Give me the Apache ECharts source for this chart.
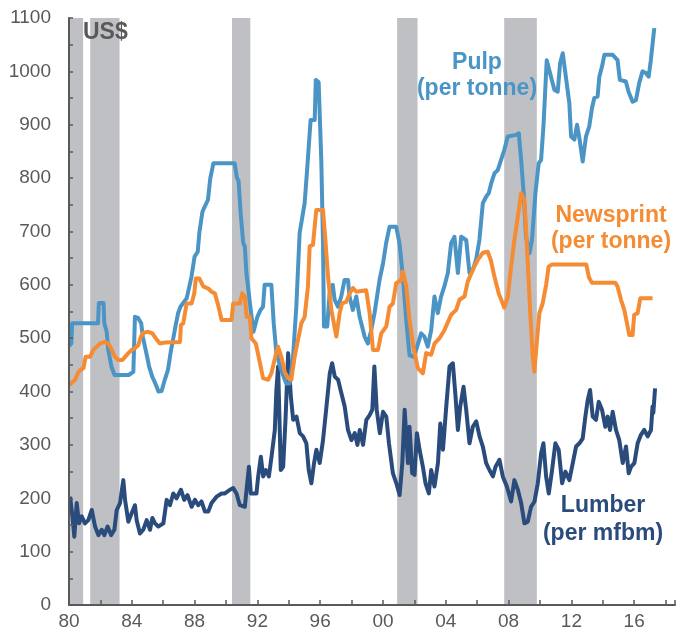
<!DOCTYPE html>
<html>
<head>
<meta charset="utf-8">
<script src="https://cdn.jsdelivr.net/npm/echarts@6/dist/echarts.min.js"></script>
<style>
  html, body { margin: 0; padding: 0; background: #fff; }
  #chart { width: 678px; height: 632px; }
</style>
</head>
<body>
<div id="chart"></div>
<script>
// recession bands (shaded), in decimal years
var recessions = [[1980.0, 1980.9], [1981.35, 1983.22], [1990.38, 1991.55], [2000.9, 2002.2], [2007.72, 2009.8]];

// pulp, US$ per tonne  [year, value]
var pulp = [
  [1980.0,485],[1980.15,490],[1980.2,528],[1981.85,528],[1981.9,566],[1982.2,566],[1982.25,528],[1982.4,512],
  [1982.5,478],[1982.7,447],[1982.9,431],[1983.8,431],[1984.1,437],[1984.2,540],[1984.4,538],[1984.6,528],
  [1984.7,503],[1985.0,462],[1985.1,447],[1985.3,428],[1985.5,415],[1985.7,400],[1985.9,401],[1986.1,422],
  [1986.3,440],[1986.5,478],[1986.6,493],[1986.8,525],[1986.95,547],[1987.1,559],[1987.5,575],[1987.8,615],
  [1988.0,653],[1988.2,662],[1988.3,697],[1988.5,737],[1988.7,750],[1988.85,759],[1989.0,800],[1989.2,828],
  [1990.55,828],[1990.7,800],[1990.8,795],[1990.95,728],[1991.1,678],[1991.2,672],[1991.3,622],[1991.55,559],
  [1991.75,512],[1992.0,540],[1992.2,553],[1992.36,559],[1992.46,600],[1992.89,600],[1993.04,528],[1993.21,472],
  [1993.52,440],[1993.84,415],[1994.05,415],[1994.27,465],[1994.48,559],[1994.69,697],[1995.01,753],[1995.18,821],
  [1995.39,909],[1995.65,909],[1995.72,984],[1995.9,980],[1996.07,834],[1996.18,678],[1996.24,522],[1996.45,522],
  [1996.6,584],[1996.8,600],[1996.92,572],[1997.13,559],[1997.34,578],[1997.55,609],[1997.77,609],[1997.87,578],
  [1998.08,553],[1998.3,578],[1998.51,540],[1998.83,503],[1999.04,490],[1999.25,515],[1999.46,547],[1999.78,609],
  [2000.0,640],[2000.2,678],[2000.42,709],[2000.84,709],[2001.05,678],[2001.27,615],[2001.48,534],[2001.69,468],
  [2001.97,465],[2002.11,478],[2002.43,509],[2002.64,503],[2002.85,484],[2003.07,515],[2003.28,578],[2003.49,547],
  [2003.7,578],[2003.91,597],[2004.13,622],[2004.34,678],[2004.55,690],[2004.77,622],[2004.98,690],[2005.3,684],
  [2005.51,622],[2005.72,628],[2005.93,647],[2006.14,684],[2006.36,753],[2006.57,765],[2006.74,772],[2006.89,790],
  [2007.1,809],[2007.31,815],[2007.52,834],[2007.73,853],[2007.95,878],[2008.48,881],[2008.65,884],[2008.8,834],
  [2008.96,772],[2009.11,690],[2009.33,659],[2009.49,684],[2009.71,772],[2009.92,828],[2010.07,834],[2010.22,897],
  [2010.43,1021],[2010.7,990],[2010.92,965],[2011.13,962],[2011.28,1015],[2011.45,1034],[2011.7,978],[2011.87,940],
  [2011.98,878],[2012.19,872],[2012.36,900],[2012.51,875],[2012.72,831],[2012.93,878],[2013.14,897],[2013.31,931],
  [2013.46,950],[2013.67,953],[2013.78,990],[2013.95,1009],[2014.1,1031],[2014.63,1031],[2014.94,1021],[2015.09,984],
  [2015.47,981],[2015.64,962],[2015.9,943],[2016.11,946],[2016.32,978],[2016.53,1000],[2016.75,997],[2016.92,990],
  [2017.06,1021],[2017.28,1081]
];

// newsprint, US$ per tonne
var newsprint = [
  [1980.0,412],[1980.39,422],[1980.56,434],[1980.7,440],[1980.92,444],[1981.06,465],[1981.34,465],[1981.55,478],
  [1981.76,484],[1981.98,490],[1982.29,493],[1982.51,490],[1982.72,478],[1982.93,465],[1983.14,459],[1983.4,459],
  [1983.57,465],[1983.78,472],[1983.99,478],[1984.2,481],[1984.41,487],[1984.58,503],[1984.73,510],[1985.05,512],
  [1985.31,509],[1985.52,500],[1985.79,490],[1986.11,492],[1987.07,493],[1987.13,525],[1987.28,528],[1987.49,565],
  [1987.81,565],[1987.98,584],[1988.08,612],[1988.3,612],[1988.55,597],[1988.87,593],[1989.08,587],[1989.29,584],
  [1989.5,562],[1989.72,534],[1990.35,534],[1990.46,565],[1990.88,565],[1991.03,584],[1991.2,578],[1991.31,540],
  [1991.52,540],[1991.62,500],[1991.9,490],[1992.15,455],[1992.36,425],[1992.68,422],[1992.89,434],[1993.14,465],
  [1993.31,484],[1993.53,465],[1993.74,437],[1993.95,425],[1994.16,422],[1994.37,465],[1994.63,503],[1994.8,528],
  [1995.01,540],[1995.22,597],[1995.33,672],[1995.54,675],[1995.75,740],[1996.18,740],[1996.33,684],[1996.5,615],
  [1996.71,553],[1997.03,503],[1997.24,547],[1997.39,565],[1997.66,568],[1997.87,584],[1998.09,594],[1998.3,587],
  [1998.93,590],[1999.15,547],[1999.36,478],[1999.68,478],[1999.89,509],[2000.21,522],[2000.42,559],[2000.63,565],
  [2000.84,603],[2001.16,609],[2001.27,625],[2001.48,597],[2001.69,534],[2001.97,478],[2002.22,444],[2002.54,434],
  [2002.75,472],[2003.07,469],[2003.28,490],[2003.6,500],[2003.91,515],[2004.13,530],[2004.34,544],[2004.66,553],
  [2004.87,572],[2005.19,578],[2005.4,606],[2005.72,628],[2006.04,647],[2006.36,660],[2006.67,662],[2006.88,645],
  [2007.1,615],[2007.37,584],[2007.73,557],[2007.95,578],[2008.16,634],[2008.37,684],[2008.65,740],[2008.8,772],
  [2009.01,759],[2009.16,678],[2009.37,553],[2009.54,465],[2009.64,437],[2009.79,490],[2009.96,547],[2010.17,565],
  [2010.39,600],[2010.55,634],[2010.75,638],[2012.95,638],[2013.12,614],[2013.3,604],[2014.8,604],[2014.94,597],
  [2015.16,572],[2015.37,553],[2015.58,522],[2015.69,506],[2015.9,506],[2016.0,544],[2016.22,547],[2016.39,575],
  [2017.17,575]
];

// lumber, US$ per mfbm
var lumber = [
  [1980.07,203],[1980.22,166],[1980.34,128],[1980.49,191],[1980.64,153],[1980.81,166],[1981.02,153],[1981.23,159],
  [1981.45,178],[1981.66,147],[1981.87,131],[1982.08,141],[1982.25,131],[1982.46,147],[1982.68,131],[1982.89,141],
  [1983.04,178],[1983.25,191],[1983.46,234],[1983.57,197],[1983.78,156],[1983.99,172],[1984.2,187],[1984.31,159],
  [1984.52,134],[1984.73,141],[1984.95,159],[1985.16,141],[1985.31,163],[1985.48,153],[1985.69,147],[1986.01,153],
  [1986.22,197],[1986.43,187],[1986.64,209],[1986.85,200],[1987.13,216],[1987.34,197],[1987.55,206],[1987.81,184],
  [1988.02,197],[1988.23,187],[1988.44,194],[1988.66,175],[1988.87,175],[1989.08,191],[1989.4,203],[1989.72,209],
  [1989.93,209],[1990.25,216],[1990.46,219],[1990.67,209],[1990.88,187],[1991.2,184],[1991.31,216],[1991.46,259],
  [1991.58,209],[1991.94,209],[1992.05,241],[1992.22,278],[1992.37,241],[1992.54,253],[1992.73,241],[1992.9,278],
  [1993.11,328],[1993.21,403],[1993.32,447],[1993.49,253],[1993.64,259],[1993.79,347],[1993.96,472],[1994.13,391],
  [1994.28,347],[1994.49,353],[1994.7,322],[1994.91,316],[1995.12,303],[1995.27,253],[1995.44,228],[1995.61,266],
  [1995.76,291],[1995.97,266],[1996.18,309],[1996.4,372],[1996.61,434],[1996.76,453],[1996.93,428],[1997.14,422],
  [1997.35,397],[1997.56,372],[1997.77,328],[1997.99,309],[1998.2,322],[1998.37,300],[1998.52,328],[1998.73,300],
  [1998.94,347],[1999.15,356],[1999.32,366],[1999.45,447],[1999.6,366],[1999.8,322],[2000.0,362],[2000.21,353],
  [2000.38,303],[2000.63,247],[2000.85,228],[2001.06,206],[2001.23,266],[2001.38,366],[2001.59,266],[2001.69,334],
  [2001.86,247],[2002.01,244],[2002.16,322],[2002.33,291],[2002.54,259],[2002.71,228],[2002.92,209],[2003.07,253],
  [2003.28,222],[2003.5,266],[2003.65,340],[2003.82,291],[2004.03,372],[2004.24,447],[2004.45,453],[2004.62,391],
  [2004.77,328],[2004.92,372],[2005.13,409],[2005.3,366],[2005.51,303],[2005.72,334],[2005.94,344],[2006.15,316],
  [2006.36,297],[2006.57,266],[2006.78,253],[2007.0,241],[2007.17,259],[2007.42,272],[2007.63,241],[2007.89,222],
  [2008.16,194],[2008.37,234],[2008.59,216],[2008.8,191],[2009.01,153],[2009.22,156],[2009.43,184],[2009.65,194],
  [2009.86,228],[2010.07,284],[2010.22,303],[2010.39,241],[2010.56,209],[2010.77,253],[2010.98,303],[2011.19,291],
  [2011.41,228],[2011.62,250],[2011.87,234],[2012.13,272],[2012.3,297],[2012.51,303],[2012.72,312],[2012.89,353],
  [2013.04,384],[2013.19,403],[2013.36,353],[2013.57,347],[2013.74,381],[2013.95,366],[2014.16,334],[2014.31,353],
  [2014.46,328],[2014.63,362],[2014.84,328],[2015.05,309],[2015.27,266],[2015.48,297],[2015.65,247],[2015.8,259],
  [2016.01,266],[2016.22,303],[2016.43,319],[2016.64,328],[2016.86,316],[2017.07,328],[2017.17,372],[2017.22,360],
  [2017.33,406]
];

var axisGrey = '#595959';
var font = '"Liberation Sans", Arial, sans-serif';

var chart = echarts.init(document.getElementById('chart'));

function label(text, x, y, color, size) {
  return {
    type: 'text', x: x, y: y, z: 100,
    style: {
      text: text, fill: color, font: 'bold ' + size + 'px ' + font,
      textAlign: 'center', textVerticalAlign: 'middle'
    }
  };
}

var option = {
  animation: false,
  backgroundColor: '#fff',
  grid: { left: 69, right: 2, top: 18, bottom: 27 },
  xAxis: {
    type: 'value', min: 1980, max: 2018.6, interval: 2, z: 10,
    axisLine: { lineStyle: { color: axisGrey, width: 2 } },
    axisTick: { inside: true, length: 5, lineStyle: { color: axisGrey, width: 1.5 } },
    splitLine: { show: false },
    axisLabel: {
      color: axisGrey, fontSize: 19, fontFamily: font, margin: 7,
      formatter: function (v) {
        var r = Math.round(v);
        if (Math.abs(v - r) > 0.01 || r % 4 !== 0) return '';
        return String(r).slice(2);
      }
    }
  },
  yAxis: {
    type: 'value', min: 0, max: 1100, interval: 50, z: 10,
    axisLine: { show: true, lineStyle: { color: axisGrey, width: 2 } },
    axisTick: { show: true, inside: true, length: 4, lineStyle: { color: axisGrey, width: 1.5 } },
    splitLine: { show: false },
    axisLabel: {
      color: axisGrey, fontSize: 19, fontFamily: font, margin: 18,
      formatter: function (v) { return v % 100 === 0 ? v : ''; }
    }
  },
  series: [
    {
      type: 'line', data: [], z: 1, silent: true,
      markArea: {
        silent: true,
        itemStyle: { color: '#BFC0C4', opacity: 1 },
        data: recessions.map(function (r) { return [{ xAxis: r[0] }, { xAxis: r[1] }]; })
      }
    },
    { name: 'Lumber', type: 'line', data: lumber, z: 3, showSymbol: false,
      lineStyle: { color: '#2A4C7D', width: 4, join: 'round' } },
    { name: 'Pulp', type: 'line', data: pulp, z: 4, showSymbol: false,
      lineStyle: { color: '#4A95C5', width: 4, join: 'round' } },
    { name: 'Newsprint', type: 'line', data: newsprint, z: 5, showSymbol: false,
      lineStyle: { color: '#F58B33', width: 4, join: 'round' } }
  ],
  graphic: [
    { type: 'text', x: 83, y: 32.5, z: 100,
      style: { text: 'US$', fill: axisGrey, font: 'bold 23px ' + font, textAlign: 'left', textVerticalAlign: 'middle' } },
    label('Pulp', 477, 63, '#4A95C5', 23),
    label('(per tonne)', 477, 89, '#4A95C5', 23),
    label('Newsprint', 611, 216, '#F58B33', 23),
    label('(per tonne)', 611, 242, '#F58B33', 23),
    label('Lumber', 603, 506, '#2A4C7D', 23),
    label('(per mfbm)', 603, 534, '#2A4C7D', 23)
  ]
};

chart.setOption(option);
</script>
</body>
</html>
